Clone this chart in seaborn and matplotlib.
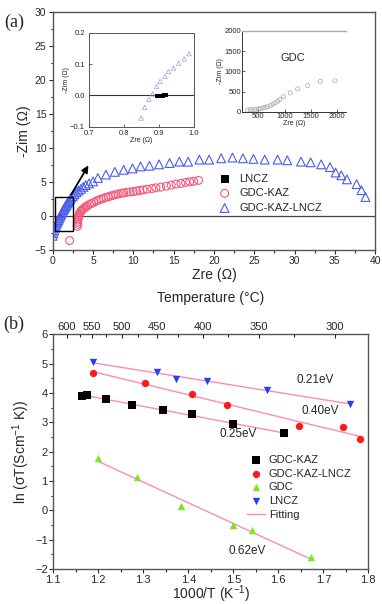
import numpy as np
import matplotlib
matplotlib.use("Agg")
import matplotlib.pyplot as plt
from matplotlib.patches import Rectangle
from matplotlib.ticker import MultipleLocator
import seaborn as sns

sns.set_theme(style="ticks")
plt.rcParams["font.family"] = ["Liberation Sans", "DejaVu Sans"]
plt.rcParams["mathtext.default"] = "regular"

"""Panel (a): Nyquist data"""
# LNCZ (tiny arc close to 0.9 ohm)
lncz_zre = [0.895, 0.9, 0.905, 0.91, 0.915, 0.92]
lncz_zim = [-0.003, -0.003, -0.002, -0.001, 0.0, 0.002]

# GDC-KAZ
kaz_zre = [2.1, 3.05, 3.1, 3.1, 3.12, 3.15, 3.2, 3.25, 3.3, 3.4, 3.5, 3.6, 3.75, 3.9,
           4.1, 4.3, 4.55, 4.8, 5.1, 5.4, 5.7, 6.0, 6.3, 6.6, 6.9, 7.2, 7.5, 7.8, 8.1,
           8.5, 8.8, 9.2, 9.6, 10.0, 10.4, 10.8, 11.2, 11.7, 12.3, 12.8, 13.4, 14.1,
           14.7, 15.3, 15.9, 16.5, 17.0, 17.5, 18.1]
kaz_zim = [-3.6, -1.5, -1.2, -0.9, -0.6, -0.35, -0.1, 0.1, 0.3, 0.5, 0.7, 0.85, 1.0, 1.15,
           1.35, 1.5, 1.7, 1.85, 2.0, 2.2, 2.35, 2.5, 2.6, 2.75, 2.85, 2.95, 3.05, 3.15,
           3.25, 3.35, 3.4, 3.5, 3.55, 3.6, 3.7, 3.75, 3.85, 3.95, 4.05, 4.15, 4.25, 4.4,
           4.55, 4.7, 4.8, 4.95, 5.05, 5.1, 5.25]

# GDC-KAZ-LNCZ
kl_zre = [0.0, 0.1, 0.2, 0.3, 0.4, 0.5, 0.6, 0.7, 0.8, 0.9, 1.0, 1.1, 1.2, 1.3, 1.4, 1.5,
          1.6, 1.7, 1.8, 1.9, 2.0, 2.15, 2.3, 2.5, 2.7, 2.95, 3.2, 3.5, 3.8, 4.1, 4.5,
          5.0, 5.6, 6.6, 7.7, 8.8, 9.9, 10.9, 12.0, 13.2, 14.5, 15.7, 16.8, 18.2, 19.4,
          20.9, 22.3, 23.6, 24.9, 26.3, 27.9, 29.1, 30.8, 32.0, 33.3, 34.4, 35.1, 35.8,
          36.5, 37.7, 38.3, 38.8]
kl_zim = [-2.9, -2.5, -2.1, -1.7, -1.4, -1.1, -0.85, -0.6, -0.35, -0.1, 0.15, 0.4, 0.6,
          0.85, 1.05, 1.25, 1.45, 1.65, 1.85, 2.0, 2.2, 2.45, 2.7, 2.95, 3.2, 3.5, 3.75,
          4.0, 4.3, 4.55, 4.8,
          5.1, 5.6, 6.1, 6.5, 6.8, 7.0, 7.3, 7.4, 7.6, 7.8, 8.0, 8.0, 8.3, 8.3, 8.5, 8.6,
          8.5, 8.4, 8.3, 8.3, 8.2, 8.0, 7.9, 7.6, 7.2, 6.4, 6.0, 5.4, 4.7, 3.8, 2.8]

# zoomed inset (high frequency part)
ins_kl_zre = [0.849, 0.859, 0.871, 0.882, 0.893, 0.903, 0.917, 0.927, 0.941, 0.956, 0.972, 0.986]
ins_kl_zim = [-0.072, -0.038, -0.012, 0.005, 0.029, 0.045, 0.061, 0.076, 0.087, 0.103, 0.116, 0.133]

# GDC inset
gdc_zre = [300, 350, 400, 450, 500, 540, 590, 630, 680, 730, 780, 820, 870, 910, 980,
           1110, 1250, 1440, 1680, 1960]
gdc_zim = [40, 50, 55, 60, 65, 75, 90, 110, 125, 150, 185, 220, 260, 300, 370,
           465, 565, 645, 750, 765]

"""Panel (b): Arrhenius data"""
b_kaz_x = [1.164, 1.176, 1.217, 1.276, 1.344, 1.408, 1.499, 1.613]
b_kaz_y = [3.91, 3.93, 3.79, 3.58, 3.42, 3.28, 2.96, 2.62]
b_kl_x = [1.189, 1.304, 1.409, 1.485, 1.647, 1.744, 1.782]
b_kl_y = [4.69, 4.35, 3.95, 3.59, 2.88, 2.85, 2.44]
b_gdc_x = [1.2, 1.285, 1.383, 1.5, 1.542, 1.672]
b_gdc_y = [1.77, 1.12, 0.15, -0.51, -0.68, -1.59]
b_lncz_x = [1.189, 1.331, 1.373, 1.442, 1.574, 1.759]
b_lncz_y = [5.06, 4.72, 4.47, 4.41, 4.10, 3.64]

ea_labels = ["0.25eV", "0.40eV", "0.62eV", "0.21eV"]

# top axis of (b) as drawn in the original figure
temp_labels = [600, 550, 500, 450, 400, 350, 300]
temp_pos = [1.130, 1.186, 1.253, 1.330, 1.433, 1.557, 1.726]
temp_minor = [1.159, 1.217, 1.288, 1.377, 1.488, 1.635]

PINK = "#f5587a"
BLUE = "#4a5cf0"
FIT = "#ff8ab8"

fig = plt.figure(figsize=(3.82, 6.04), dpi=100)

"""(a) main"""
ax = fig.add_axes([0.138, 0.586, 0.844, 0.394])
ax.axhline(0, color="#444444", lw=0.9, zorder=1)
sns.scatterplot(x=lncz_zre, y=lncz_zim, ax=ax, marker="s", s=10, color="black",
                linewidth=0, label="LNCZ", zorder=2)
sns.scatterplot(x=kl_zre, y=kl_zim, ax=ax, marker="^", s=40, facecolors="none",
                edgecolor=BLUE, linewidth=0.8, label="GDC-KAZ-LNCZ", zorder=3)
sns.scatterplot(x=kaz_zre, y=kaz_zim, ax=ax, marker="o", s=32, facecolors="none",
                edgecolor=PINK, linewidth=0.8, label="GDC-KAZ", zorder=3)
ax.add_patch(Rectangle((0.3, -2.2), 2.2, 5.0, fill=False, ec="black", lw=1.0, zorder=5))
ax.annotate("", xy=(4.6, 7.8), xytext=(2.1, 2.8),
            arrowprops=dict(arrowstyle="-|>", color="black", lw=1.3, mutation_scale=10))
ax.set_xlim(0, 40)
ax.set_ylim(-5, 30)
ax.xaxis.set_major_locator(MultipleLocator(5))
ax.xaxis.set_minor_locator(MultipleLocator(2.5))
ax.yaxis.set_major_locator(MultipleLocator(5))
ax.yaxis.set_minor_locator(MultipleLocator(2.5))
ax.tick_params(which="both", direction="out", labelsize=7.5, width=0.8, pad=1.5)
ax.tick_params(which="major", length=3)
ax.tick_params(which="minor", length=1.8)
for s in ax.spines.values():
    s.set_color("#555555")
    s.set_linewidth(1.0)
ax.set_xlabel("Zre (Ω)", fontsize=10, labelpad=1)
ax.set_ylabel("-Zim (Ω)", fontsize=10, labelpad=3)
h, l = ax.get_legend_handles_labels()
order = [l.index("LNCZ"), l.index("GDC-KAZ"), l.index("GDC-KAZ-LNCZ")]
leg = ax.legend([h[i] for i in order], [l[i] for i in order], loc="upper left",
                bbox_to_anchor=(0.485, 0.34), frameon=False, fontsize=8,
                handletextpad=0.3, labelspacing=0.42, borderaxespad=0)
leg.legend_handles[0].set_sizes([26])
fig.text(0.012, 0.978, "(a)", fontsize=13, family=["Liberation Serif", "DejaVu Serif"],
         va="top")

"""(a) inset 1"""
ins1 = fig.add_axes([0.233, 0.790, 0.275, 0.156])
ins1.axhline(0, color="#333333", lw=0.8, zorder=1)
sns.scatterplot(x=ins_kl_zre, y=ins_kl_zim, ax=ins1, marker="^", s=10, facecolors="none",
                edgecolor="#9a9ae6", linewidth=0.5, legend=False, zorder=3)
sns.scatterplot(x=lncz_zre, y=lncz_zim, ax=ins1, marker="s", s=6, color="black",
                linewidth=0, legend=False, zorder=4)
ins1.set_xlim(0.7, 1.0)
ins1.set_ylim(-0.1, 0.2)
ins1.set_xticks([0.7, 0.8, 0.9, 1.0])
ins1.set_yticks([-0.1, 0.0, 0.1, 0.2])
ins1.tick_params(labelsize=5.5, length=2, width=0.5, direction="in")
ins1.tick_params(axis="x", pad=2)
ins1.tick_params(axis="y", pad=3)
for s in ins1.spines.values():
    s.set_color("#555555")
    s.set_linewidth(0.7)
ins1.set_xlabel("Zre (Ω)", fontsize=5, labelpad=0)
ins1.set_ylabel("-Zim (Ω)", fontsize=5, labelpad=0)

"""(a) inset 2"""
ins2 = fig.add_axes([0.634, 0.815, 0.272, 0.134])
sns.scatterplot(x=gdc_zre, y=gdc_zim, ax=ins2, marker="o", s=9, facecolors="none",
                edgecolor="#a5a5a5", linewidth=0.5, legend=False)
ins2.set_xlim(196, 2170)
ins2.set_ylim(0, 2000)
ins2.set_xticks([500, 1000, 1500, 2000])
ins2.set_yticks([0, 500, 1000, 1500, 2000])
ins2.tick_params(labelsize=5.5, length=2, width=0.5, pad=1, direction="in")
ins2.spines["right"].set_visible(False)
ins2.spines["top"].set_color("#aaaaaa")
ins2.spines["top"].set_linewidth(1.0)
ins2.spines["left"].set_linewidth(0.7)
ins2.spines["bottom"].set_linewidth(0.7)
ins2.spines["left"].set_color("#333333")
ins2.spines["bottom"].set_color("#333333")
ins2.text(1165, 1330, "GDC", fontsize=8, ha="center", va="center")
ins2.set_xlabel("Zre (Ω)", fontsize=5, labelpad=0)
ins2.set_ylabel("-Zim (Ω)", fontsize=5, labelpad=0)

"""(b) Arrhenius"""
bx = fig.add_axes([0.1395, 0.0579, 0.8246, 0.3886])
series = [
    (b_kaz_x, b_kaz_y, "s", "black", "GDC-KAZ"),
    (b_kl_x, b_kl_y, "o", "#ff1a1a", "GDC-KAZ-LNCZ"),
    (b_gdc_x, b_gdc_y, "^", "#77e81c", "GDC"),
    (b_lncz_x, b_lncz_y, "v", "#2140f0", "LNCZ"),
]
for i, (xs, ys, m, c, name) in enumerate(series):
    k, b0 = np.polyfit(xs, ys, 1)
    xf = np.array([min(xs), max(xs)])
    bx.plot(xf, k * xf + b0, color=FIT, lw=1.0, zorder=2,
            label="Fitting" if i == 0 else None)
    sns.scatterplot(x=xs, y=ys, ax=bx, marker=m, s=28, color=c, linewidth=0,
                    label=name, zorder=3)
bx.set_xlim(1.1, 1.8)
bx.set_ylim(-2, 6)
bx.xaxis.set_major_locator(MultipleLocator(0.1))
bx.xaxis.set_minor_locator(MultipleLocator(0.05))
bx.yaxis.set_major_locator(MultipleLocator(1))
bx.yaxis.set_minor_locator(MultipleLocator(0.5))
bx.tick_params(which="both", direction="out", labelsize=8, width=0.8, pad=1)
bx.tick_params(which="major", length=3)
bx.tick_params(which="minor", length=1.8)
for s in bx.spines.values():
    s.set_color("#555555")
    s.set_linewidth(1.0)
bx.set_xlabel("1000/T (K$^{-1}$)", fontsize=10, labelpad=-1)
bx.set_ylabel("ln (σT(Scm$^{-1}$ K))", fontsize=10, labelpad=2)

bx.text(1.64, 4.35, ea_labels[3], fontsize=8.5)
bx.text(1.652, 3.3, ea_labels[1], fontsize=8.5)
bx.text(1.47, 2.5, ea_labels[0], fontsize=8.5)
bx.text(1.49, -1.5, ea_labels[2], fontsize=8.5)

h, l = bx.get_legend_handles_labels()
order = [l.index(n) for n in ["GDC-KAZ", "GDC-KAZ-LNCZ", "GDC", "LNCZ", "Fitting"]]
bx.legend([h[i] for i in order], [l[i] for i in order], loc="upper left",
          bbox_to_anchor=(0.6, 0.505), frameon=False, fontsize=8,
          handlelength=1.6, handletextpad=0.4, labelspacing=0.33, borderaxespad=0)

top = bx.twiny()
top.set_xlim(bx.get_xlim())
top.set_xticks(temp_pos)
top.set_xticklabels([str(t) for t in temp_labels])
top.set_xticks(temp_minor, minor=True)
top.tick_params(which="both", direction="in", labelsize=8, width=0.8, pad=2)
top.tick_params(which="major", length=3)
top.tick_params(which="minor", length=2)
for s in top.spines.values():
    s.set_visible(False)
top.set_xlabel("Temperature (°C)", fontsize=10, labelpad=14)
fig.text(0.008, 0.478, "(b)", fontsize=13, family=["Liberation Serif", "DejaVu Serif"],
         va="top")

fig.savefig("out.png", dpi=100)
